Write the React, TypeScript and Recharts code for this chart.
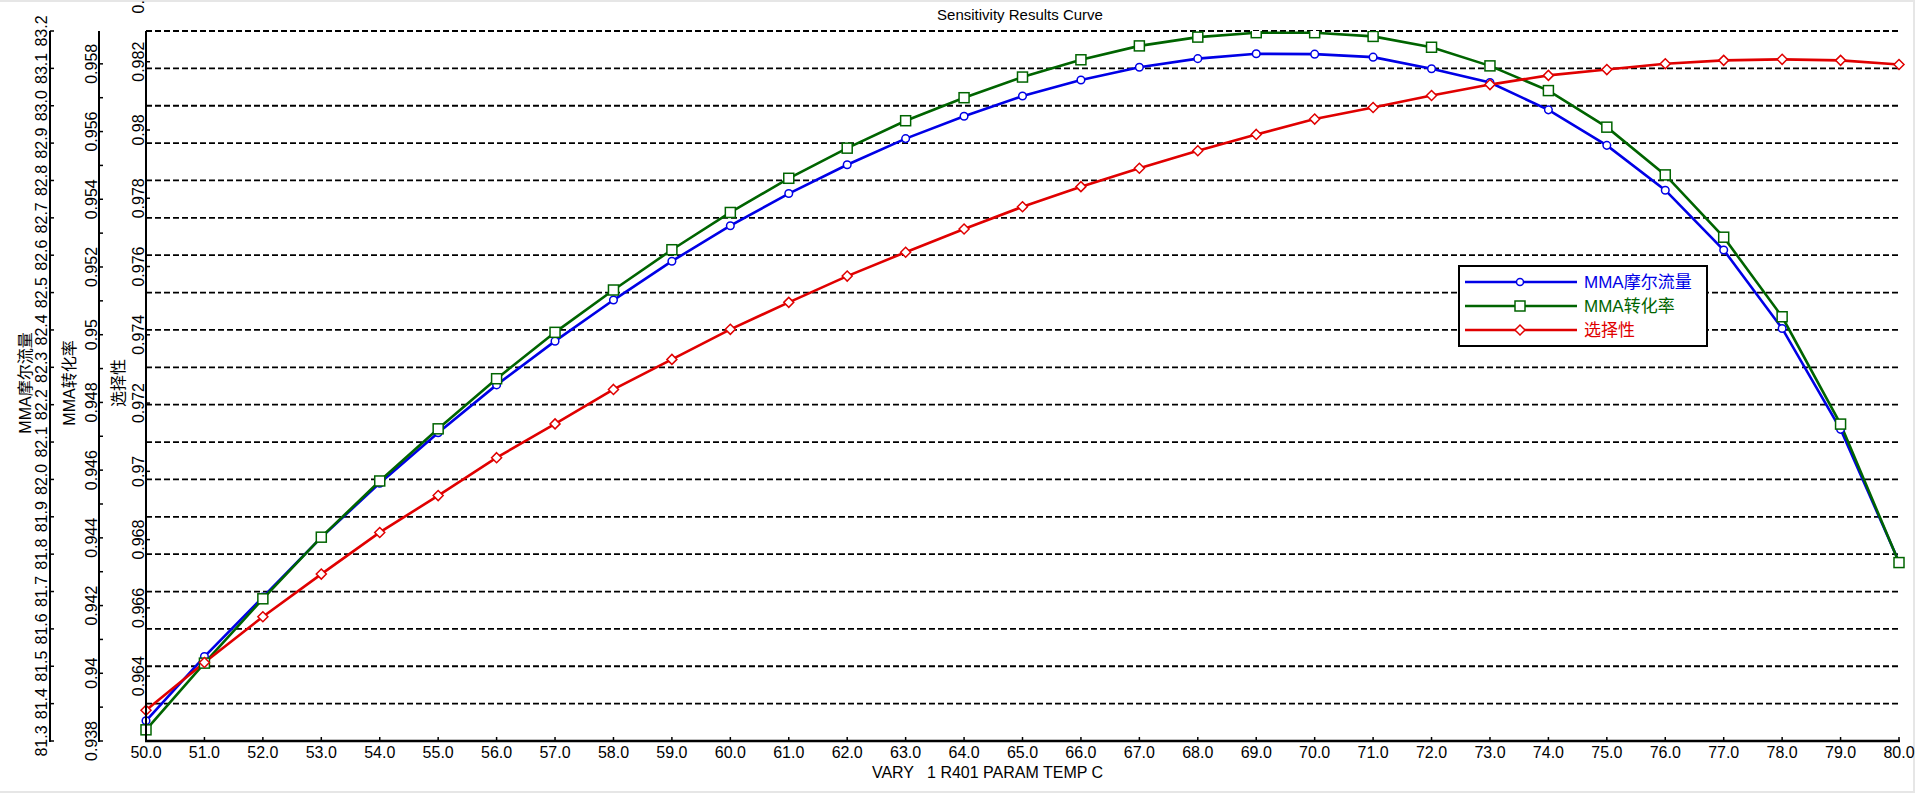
import React from 'react';
import { LineChart, Line, XAxis, YAxis, CartesianGrid, Legend } from 'recharts';

const temps = [50, 51, 52, 53, 54, 55, 56, 57, 58, 59, 60, 61, 62, 63, 64, 65, 66, 67, 68, 69, 70, 71, 72, 73, 74, 75, 76, 77, 78, 79, 80];

// MMA摩尔流量
const molarFlow = [81.354, 81.526, 81.685, 81.845, 81.990, 82.125, 82.253, 82.370, 82.480, 82.584, 82.679, 82.765, 82.842, 82.912, 82.972, 83.026, 83.069, 83.103, 83.126, 83.139, 83.138, 83.130, 83.099, 83.062, 82.989, 82.894, 82.774, 82.614, 82.404, 82.134, 81.779];
// MMA转化率
const conversion = [0.93833, 0.94030, 0.94220, 0.94402, 0.94568, 0.94722, 0.94870, 0.95007, 0.95132, 0.95251, 0.95361, 0.95462, 0.95551, 0.95632, 0.95700, 0.95761, 0.95812, 0.95853, 0.95879, 0.95892, 0.95892, 0.95881, 0.95849, 0.95794, 0.95721, 0.95613, 0.95472, 0.95288, 0.95053, 0.94736, 0.94327];
// 选择性
const selectivity = [0.96300, 0.96440, 0.96574, 0.96699, 0.96821, 0.96929, 0.97040, 0.97139, 0.97240, 0.97328, 0.97416, 0.97495, 0.97572, 0.97642, 0.97710, 0.97775, 0.97834, 0.97888, 0.97939, 0.97987, 0.98032, 0.98066, 0.98101, 0.98133, 0.98160, 0.98177, 0.98194, 0.98204, 0.98207, 0.98204, 0.98192];

const flowTicks = [81.3, 81.4, 81.5, 81.6, 81.7, 81.8, 81.9, 82.0, 82.1, 82.2, 82.3, 82.4, 82.5, 82.6, 82.7, 82.8, 82.9, 83.0, 83.1, 83.2];
const convTicks = [0.938, 0.939, 0.94, 0.941, 0.942, 0.943, 0.944, 0.945, 0.946, 0.947, 0.948, 0.949, 0.95, 0.951, 0.952, 0.953, 0.954, 0.955, 0.956, 0.957, 0.958];
const convLabelled = [0.938, 0.94, 0.942, 0.944, 0.946, 0.948, 0.95, 0.952, 0.954, 0.956, 0.958];
const selTicks = [0.964, 0.966, 0.968, 0.97, 0.972, 0.974, 0.976, 0.978, 0.98, 0.982, 0.984];

const seriesNames = ['MMA摩尔流量', 'MMA转化率', '选择性'];
const seriesColors = ['#0000E6', '#006400', '#E00000'];

const data = temps.map((t, i) => ({
  temp: t,
  flow: molarFlow[i],
  conv: conversion[i],
  sel: selectivity[i],
}));

const FONT = "'Liberation Sans', Arial, 'Noto Sans CJK SC', sans-serif";
const CHART_W = 1915;
const MARGIN_RIGHT = 16;
const PLOT_TOP = 31;
const PLOT_BOTTOM = 741;

// axis ids: recharts stacks left axes by id, first one next to the plot
const SEL_AXIS = 'y1sel';
const CONV_AXIS = 'y2conv';
const FLOW_AXIS = 'y3flow';

const makeYTick = (fmt: (v: number) => string, labelled: (v: number) => boolean, gap: number) => (props: any) => {
  const { x, y, payload, index } = props;
  const v = payload.value as number;
  const inside = y >= PLOT_TOP - 1 && y <= PLOT_BOTTOM + 1;
  return (
    <g key={`t-${index}`}>
      {index === 0 && <line x1={x} y1={PLOT_TOP} x2={x} y2={PLOT_BOTTOM + 1} stroke="#000" strokeWidth={2} />}
      {inside && <line x1={x} y1={y} x2={x + 4} y2={y} stroke="#000" strokeWidth={1.5} />}
      {labelled(v) && (
        <text transform={`translate(${x - gap},${y}) rotate(-90)`} textAnchor="middle" fontSize={16} fontFamily={FONT} fill="#000">
          {fmt(v)}
        </text>
      )}
    </g>
  );
};

const XTick = (props: any) => {
  const { x, y, payload, index } = props;
  return (
    <g key={`x-${index}`}>
      {index === 0 && <line x1={x - 1} y1={y} x2={CHART_W - MARGIN_RIGHT + 1} y2={y} stroke="#000" strokeWidth={2.5} />}
      <line x1={x} y1={y} x2={x} y2={y - 4} stroke="#000" strokeWidth={1.5} />
      <text x={x} y={y + 17} textAnchor="middle" fontSize={16} fontFamily={FONT} fill="#000">
        {(payload.value as number).toFixed(1)}
      </text>
    </g>
  );
};

const axisTitle = (text: string, dx: number) => (props: any) => {
  const vb = props.viewBox;
  return (
    <text transform={`translate(${vb.x + dx},${vb.y + vb.height / 2 - 3}) rotate(-90)`} textAnchor="middle" fontSize={16} fontFamily={FONT} fill="#000">
      {text}
    </text>
  );
};

const SquareDot = (props: any) => {
  const { cx, cy, index } = props;
  return <rect key={`sq-${index}`} x={cx - 5} y={cy - 5} width={10} height={10} fill="#fff" stroke={seriesColors[1]} strokeWidth={1.5} />;
};

const DiamondDot = (props: any) => {
  const { cx, cy, index } = props;
  return <polygon key={`dm-${index}`} points={`${cx},${cy - 5} ${cx + 5},${cy} ${cx},${cy + 5} ${cx - 5},${cy}`} fill="#fff" stroke={seriesColors[2]} strokeWidth={1.5} />;
};

const LegendBox = () => {
  const rows = [17, 41, 65];
  return (
    <svg width={250} height={82} style={{ display: 'block' }}>
      <rect x={1} y={1} width={248} height={80} fill="#fff" stroke="#000" strokeWidth={2} />
      {seriesNames.map((name, i) => {
        const y = rows[i];
        const c = seriesColors[i];
        return (
          <g key={name}>
            <line x1={7} y1={y} x2={119} y2={y} stroke={c} strokeWidth={2.5} />
            {i === 0 && <circle cx={62} cy={y} r={3.5} fill="#fff" stroke={c} strokeWidth={1.5} />}
            {i === 1 && <rect x={57} y={y - 5} width={10} height={10} fill="#fff" stroke={c} strokeWidth={1.5} />}
            {i === 2 && <polygon points={`62,${y - 5} 67,${y} 62,${y + 5} 57,${y}`} fill="#fff" stroke={c} strokeWidth={1.5} />}
            <text x={126} y={y + 6} fontSize={17} fontFamily={FONT} fill={c}>{name}</text>
          </g>
        );
      })}
    </svg>
  );
};

export default function App() {
  return (
    <div style={{ position: 'absolute', left: 0, top: 0, width: 1915, height: 793, background: '#fff', boxSizing: 'border-box', borderTop: '2px solid #e6e6e6', borderRight: '2px solid #e6e6e6', borderBottom: '2px solid #e6e6e6' }}>
      <div style={{ position: 'absolute', left: 1020, top: 4, transform: 'translateX(-50%)', fontSize: 15, fontFamily: FONT, color: '#000', whiteSpace: 'nowrap' }}>
        Sensitivity Results Curve
      </div>
      <div style={{ position: 'absolute', left: 0, top: -2 }}>
        <LineChart width={CHART_W} height={793} data={data} margin={{ top: PLOT_TOP, right: MARGIN_RIGHT, bottom: 0, left: 0 }}>
          <CartesianGrid yAxisId={FLOW_AXIS} vertical={false} stroke="#000" strokeDasharray="6 3" strokeWidth={1.8} />
          <XAxis
            dataKey="temp"
            type="number"
            domain={[50, 80]}
            ticks={temps}
            interval={0}
            height={52}
            tickSize={0}
            tickMargin={0}
            tick={XTick}
            axisLine={{ stroke: '#000', strokeWidth: 2 }}
            label={(props: any) => {
              const vb = props.viewBox;
              return (
                <text x={vb.x + vb.width / 2 - 35} y={vb.y + 37} textAnchor="middle" fontSize={16} fontFamily={FONT} fill="#000" style={{ whiteSpace: 'pre' }}>
                  {'VARY   1 R401 PARAM TEMP C'}
                </text>
              );
            }}
          />
          <YAxis
            yAxisId={SEL_AXIS}
            type="number"
            domain={[0.9621, 0.9829]}
            allowDataOverflow
            ticks={selTicks}
            interval={0}
            width={47}
            tickSize={0}
            tickMargin={0}
            tick={makeYTick((v) => String(Number(v.toFixed(3))), () => true, 2)}
            axisLine={{ stroke: '#000', strokeWidth: 2 }}
            label={axisTitle('选择性', 25)}
          />
          <YAxis
            yAxisId={CONV_AXIS}
            type="number"
            domain={[0.938, 0.95897]}
            allowDataOverflow
            ticks={convTicks}
            interval={0}
            width={49}
            tickSize={0}
            tickMargin={0}
            tick={makeYTick((v) => String(Number(v.toFixed(3))), (v) => convLabelled.some((l) => Math.abs(l - v) < 1e-6), 2)}
            axisLine={{ stroke: '#000', strokeWidth: 2 }}
            label={axisTitle('MMA转化率', 25)}
          />
          <YAxis
            yAxisId={FLOW_AXIS}
            type="number"
            domain={[81.3, 83.2]}
            allowDataOverflow
            ticks={flowTicks}
            interval={0}
            width={50}
            tickSize={0}
            tickMargin={0}
            tick={makeYTick((v) => v.toFixed(1), () => true, 3)}
            axisLine={{ stroke: '#000', strokeWidth: 2 }}
            label={axisTitle('MMA摩尔流量', 31)}
          />
          <Legend
            layout="vertical"
            align="center"
            verticalAlign="middle"
            wrapperStyle={{ left: 1458, top: 265, width: 250, height: 82 }}
            content={() => <LegendBox />}
          />
          <Line
            yAxisId={FLOW_AXIS}
            dataKey="flow"
            name={seriesNames[0]}
            stroke={seriesColors[0]}
            strokeWidth={2.6}
            dot={{ r: 3.8, fill: '#fff', stroke: seriesColors[0], strokeWidth: 1.5 }}
            activeDot={false}
            isAnimationActive={false}
          />
          <Line
            yAxisId={CONV_AXIS}
            dataKey="conv"
            name={seriesNames[1]}
            stroke={seriesColors[1]}
            strokeWidth={2.6}
            dot={SquareDot}
            activeDot={false}
            isAnimationActive={false}
          />
          <Line
            yAxisId={SEL_AXIS}
            dataKey="sel"
            name={seriesNames[2]}
            stroke={seriesColors[2]}
            strokeWidth={2.6}
            dot={DiamondDot}
            activeDot={false}
            isAnimationActive={false}
          />
        </LineChart>
      </div>
    </div>
  );
}
